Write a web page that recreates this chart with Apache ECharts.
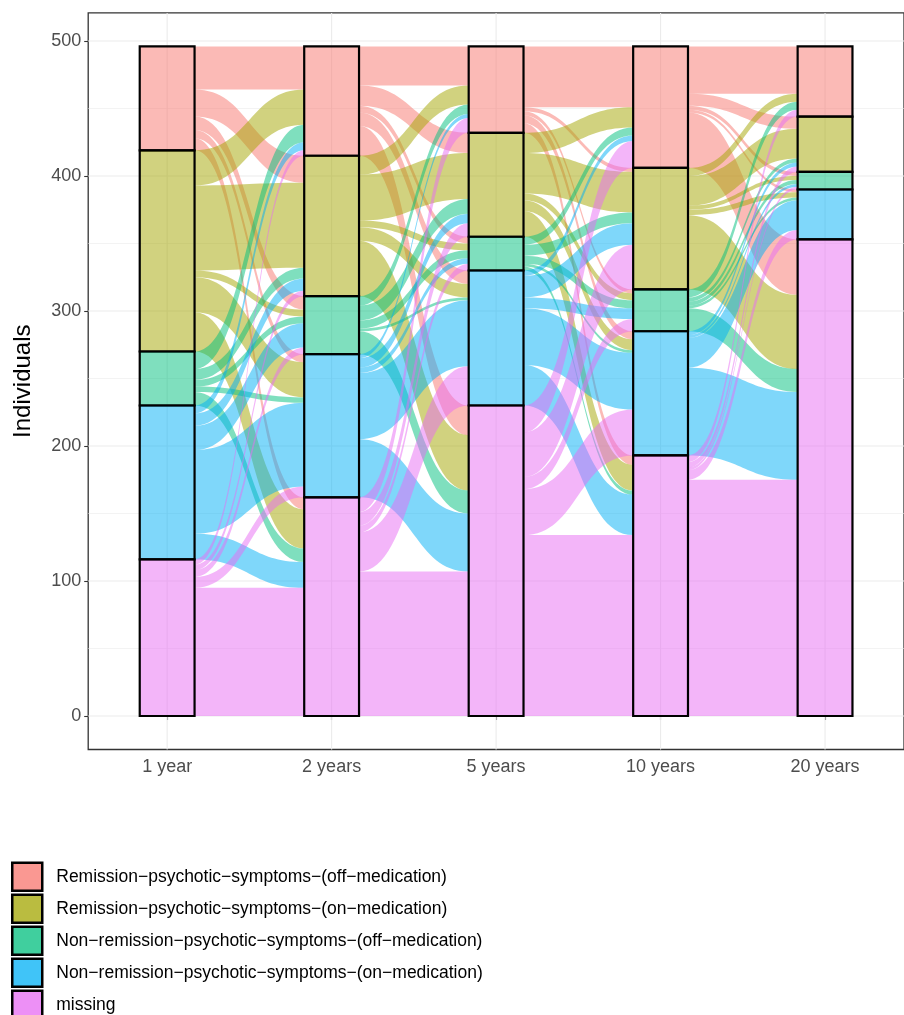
<!DOCTYPE html>
<html><head><meta charset="utf-8">
<script src="https://cdn.jsdelivr.net/npm/echarts@6/dist/echarts.min.js"></script>
<style>html,body{margin:0;padding:0;background:#fff}#c{width:904px;height:1015px}</style>
</head><body><div id="c"></div><script>
// ---- data ----
var timepoints = ['1 year', '2 years', '5 years', '10 years', '20 years'];
var states = [
  'Remission\u2212psychotic\u2212symptoms\u2212(off\u2212medication)',
  'Remission\u2212psychotic\u2212symptoms\u2212(on\u2212medication)',
  'Non\u2212remission\u2212psychotic\u2212symptoms\u2212(off\u2212medication)',
  'Non\u2212remission\u2212psychotic\u2212symptoms\u2212(on\u2212medication)',
  'missing'
];
var stateColors = ['#F8766D', '#A3A500', '#00BF7D', '#00B0F6', '#E76BF3'];
var yTicks = [0, 100, 200, 300, 400, 500];
var yMinorTicks = [50, 150, 250, 350, 450];
// transitions: rows = state at earlier timepoint, columns = state at later timepoint (order as states)
var flow1yTo2y = [
  [32, 20, 10, 6, 9],
  [26, 63, 5, 26, 29],
  [13, 8, 5, 4, 10],
  [6, 9, 18, 62, 19],
  [4, 4, 5, 8, 95]
];
var flow2yTo5y = [
  [29, 15, 5, 10, 22],
  [14, 34, 5, 10, 41],
  [7, 11, 6, 2, 17],
  [3, 7, 4, 49, 43],
  [11, 10, 5, 29, 107]
];
var flow5yTo10y = [
  [45, 3, 3, 6, 7],
  [15, 30, 5, 8, 19],
  [6, 8, 6, 2, 3],
  [4, 16, 8, 42, 30],
  [20, 33, 9, 34, 134]
];
var flow10yTo20y = [
  [35, 9, 3, 2, 41],
  [6, 22, 3, 4, 55],
  [6, 3, 3, 2, 17],
  [0, 3, 2, 22, 65],
  [5, 4, 2, 7, 175]
];

// ---- build ----
var flows = [flow1yTo2y, flow2yTo5y, flow5yTo10y, flow10yTo20y];
var NS = states.length, NT = timepoints.length;
var X_MIN = 0.52, X_MAX = 5.48, Y_MIN = -24.8, Y_MAX = 520.8;
var STRAT_W = 1 / 3;

function rgba(hex, a) {
  var r = parseInt(hex.slice(1, 3), 16), g = parseInt(hex.slice(3, 5), 16), b = parseInt(hex.slice(5, 7), 16);
  return 'rgba(' + r + ',' + g + ',' + b + ',' + a + ')';
}
function mixWhite(hex, a) {
  var r = parseInt(hex.slice(1, 3), 16), g = parseInt(hex.slice(3, 5), 16), b = parseInt(hex.slice(5, 7), 16);
  function m(c) { return Math.round(c * a + 255 * (1 - a)); }
  return 'rgb(' + m(r) + ',' + m(g) + ',' + m(b) + ')';
}

// stratum sizes per timepoint
var strata = [];
for (var t = 0; t < NT; t++) {
  var sz = [];
  for (var s = 0; s < NS; s++) {
    var v = 0;
    if (t === 0) { for (var d = 0; d < NS; d++) v += flows[0][s][d]; }
    else { for (var o = 0; o < NS; o++) v += flows[t - 1][o][s]; }
    sz.push(v);
  }
  strata.push(sz);
}
// bottoms: first state on top, last at the bottom
var bottoms = strata.map(function (sz) {
  var b = new Array(NS), acc = 0;
  for (var s = NS - 1; s >= 0; s--) { b[s] = acc; acc += sz[s]; }
  return b;
});

var seriesData = [];
for (var s = 0; s < NS; s++) seriesData.push([]);
// flows (coloured by origin state)
for (var g = 0; g < flows.length; g++) {
  var T = flows[g];
  for (var s = 0; s < NS; s++) {
    for (var d = 0; d < NS; d++) {
      var n = T[s][d];
      if (!n) continue;
      var lLo = bottoms[g][s];
      for (var d2 = d + 1; d2 < NS; d2++) lLo += T[s][d2];
      var rLo = bottoms[g + 1][d];
      for (var s2 = s + 1; s2 < NS; s2++) rLo += T[s2][d];
      seriesData[s].push([1, g, lLo, lLo + n, rLo, rLo + n]);
    }
  }
}
// strata
for (var t = 0; t < NT; t++) {
  for (var s = 0; s < NS; s++) {
    seriesData[s].push([0, t, bottoms[t][s], bottoms[t][s] + strata[t][s], 0, 0]);
  }
}

function renderAlluvium(params, api) {
  var idx = params.seriesIndex - 1;
  var col = stateColors[idx];
  var type = api.value(0), k = api.value(1);
  if (type === 0) {
    var p0 = api.coord([k + 1 - STRAT_W / 2, api.value(3)]);
    var p1 = api.coord([k + 1 + STRAT_W / 2, api.value(2)]);
    return {
      type: 'rect', z2: 10,
      shape: { x: p0[0], y: p0[1], width: p1[0] - p0[0], height: p1[1] - p0[1] },
      style: { fill: rgba(col, 0.5), stroke: '#000', lineWidth: 2.2 }
    };
  }
  var xl = k + 1 + STRAT_W / 2, xr = k + 2 - STRAT_W / 2;
  var lt = api.coord([xl, api.value(3)]), lb = api.coord([xl, api.value(2)]);
  var rt = api.coord([xr, api.value(5)]), rb = api.coord([xr, api.value(4)]);
  var mx = (lt[0] + rt[0]) / 2;
  var path = 'M' + lt[0] + ',' + lt[1] +
    ' C' + mx + ',' + lt[1] + ' ' + mx + ',' + rt[1] + ' ' + rt[0] + ',' + rt[1] +
    ' L' + rb[0] + ',' + rb[1] +
    ' C' + mx + ',' + rb[1] + ' ' + mx + ',' + lb[1] + ' ' + lb[0] + ',' + lb[1] + ' Z';
  return { type: 'path', z2: 1, shape: { pathData: path }, style: { fill: rgba(col, 0.5) } };
}

var gridData = [];
yTicks.forEach(function (v) { gridData.push([0, v]); });
yMinorTicks.forEach(function (v) { gridData.push([1, v]); });
timepoints.forEach(function (c, i) { gridData.push([2, i + 1]); });

function renderGrid(params, api) {
  var kind = api.value(0), v = api.value(1), p0, p1;
  if (kind === 2) { p0 = api.coord([v, Y_MIN]); p1 = api.coord([v, Y_MAX]); }
  else { p0 = api.coord([X_MIN, v]); p1 = api.coord([X_MAX, v]); }
  return {
    type: 'line', shape: { x1: p0[0], y1: p0[1], x2: p1[0], y2: p1[1] },
    style: { stroke: '#EBEBEB', lineWidth: kind === 1 ? 0.6 : 1.1 }
  };
}

var FONT = '"Liberation Sans", Arial, Helvetica, sans-serif';
var series = [{
  type: 'custom', name: 'grid', silent: true, z: 1,
  renderItem: renderGrid, data: gridData, encode: { x: 1, y: 1 }
}];
for (var s = 0; s < NS; s++) {
  series.push({
    type: 'custom', name: states[s], z: 2,
    itemStyle: { color: mixWhite(stateColors[s], 0.75) },
    renderItem: renderAlluvium, data: seriesData[s], encode: { x: 1, y: 2 }
  });
}

var chart = echarts.init(document.getElementById('c'), null, { renderer: 'canvas' });
chart.setOption({
  backgroundColor: '#fff',
  animation: false,
  textStyle: { fontFamily: FONT },
  grid: { left: 88.2, right: -8.8, top: 12.92, bottom: 265.52, show: true, borderColor: '#333', borderWidth: 1.3, backgroundColor: 'transparent' },
  xAxis: {
    type: 'value', min: X_MIN, max: X_MAX,
    axisLine: { show: false },
    splitLine: { show: false },
    axisTick: { show: true, customValues: [1, 2, 3, 4, 5], length: 4, lineStyle: { color: '#333', width: 1.1 } },
    axisLabel: {
      customValues: [1, 2, 3, 4, 5], margin: 9, color: '#4D4D4D', fontSize: 18, fontFamily: FONT,
      formatter: function (v) { return timepoints[Math.round(v) - 1] || ''; }
    }
  },
  yAxis: {
    type: 'value', min: Y_MIN, max: Y_MAX,
    name: 'Individuals', nameLocation: 'middle', nameGap: 53, nameRotate: 90,
    nameTextStyle: { color: '#000', fontSize: 24, fontFamily: FONT },
    axisLine: { show: false },
    splitLine: { show: false },
    axisTick: { show: true, customValues: yTicks, length: 4, lineStyle: { color: '#333', width: 1.1 } },
    axisLabel: { customValues: yTicks, margin: 7, color: '#4D4D4D', fontSize: 18, fontFamily: FONT }
  },
  legend: {
    orient: 'vertical', left: 11, top: 861.5, height: 200, padding: 0,
    itemWidth: 30, itemHeight: 28, itemGap: 1.5, icon: 'rect',
    selectedMode: false,
    textStyle: { color: '#000', fontSize: 17.5, fontFamily: FONT, padding: [0, 0, 0, 9] },
    data: states.map(function (n, i) {
      return { name: n, itemStyle: { color: mixWhite(stateColors[i], 0.75), borderColor: '#000', borderWidth: 2.5 } };
    })
  },
  series: series
});
</script></body></html>
